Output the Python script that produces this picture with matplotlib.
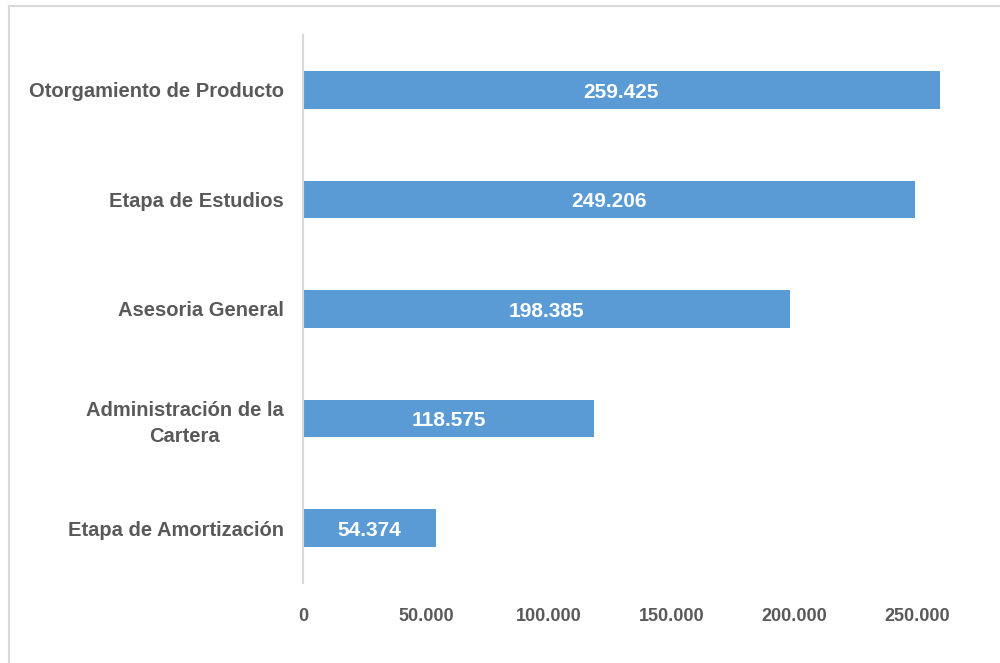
import matplotlib
matplotlib.use("Agg")
import matplotlib.pyplot as plt
from matplotlib.lines import Line2D
from matplotlib import font_manager

categories = ["Otorgamiento de Producto", "Etapa de Estudios", "Asesoria General",
              "Administración de la\nCartera", "Etapa de Amortización"]
values = [259425, 249206, 198385, 118575, 54374]
value_labels = ["259.425", "249.206", "198.385", "118.575", "54.374"]
xticks = [0, 50000, 100000, 150000, 200000, 250000]
xtick_labels = ["0", "50.000", "100.000", "150.000", "200.000", "250.000"]

names = {f.name for f in font_manager.fontManager.ttflist}
fam = ["Liberation Sans Narrow", "Liberation Sans", "DejaVu Sans"]
fam = [f for f in fam if f in names] or ["DejaVu Sans"]
plt.rcParams['font.family'] = fam

fig = plt.figure(figsize=(10, 6.63), dpi=100)
ax = fig.add_axes([0.303, 0.121, 0.671, 0.826])

bar_color = "#5B9BD5"
text_color = "#595959"
y = list(range(len(categories)))
ax.barh(y, values, height=0.34, color=bar_color)
for yi, v, lab in zip(y, values, value_labels):
    ax.text(v / 2, yi + 0.02, lab, ha="center", va="center", color="white",
            fontsize=15, fontweight="bold")

ax.set_ylim(len(categories) - 0.5, -0.5)
ax.set_xlim(0, 273300)
ax.set_yticks(y)
ax.set_yticklabels(categories, fontsize=14.5, fontweight="bold", color=text_color,
                   linespacing=1.45, ha="right", multialignment="center")
ax.set_xticks(xticks)
ax.set_xticklabels(xtick_labels, fontsize=13, fontweight="bold", color=text_color)
ax.tick_params(axis="both", length=0)
ax.tick_params(axis="x", pad=18)
ax.tick_params(axis="y", pad=14)
for s in ["top", "right", "bottom"]:
    ax.spines[s].set_visible(False)
ax.spines["left"].set_color("#D9D9D9")
ax.spines["left"].set_linewidth(1.5)

# outer chart border (top and left)
fig.add_artist(Line2D([0.009, 1.0], [0.991, 0.991], transform=fig.transFigure,
                      color="#D9D9D9", linewidth=1.5))
fig.add_artist(Line2D([0.009, 0.009], [0.0, 0.991], transform=fig.transFigure,
                      color="#D9D9D9", linewidth=1.5))

fig.savefig("out.png", dpi=100)
